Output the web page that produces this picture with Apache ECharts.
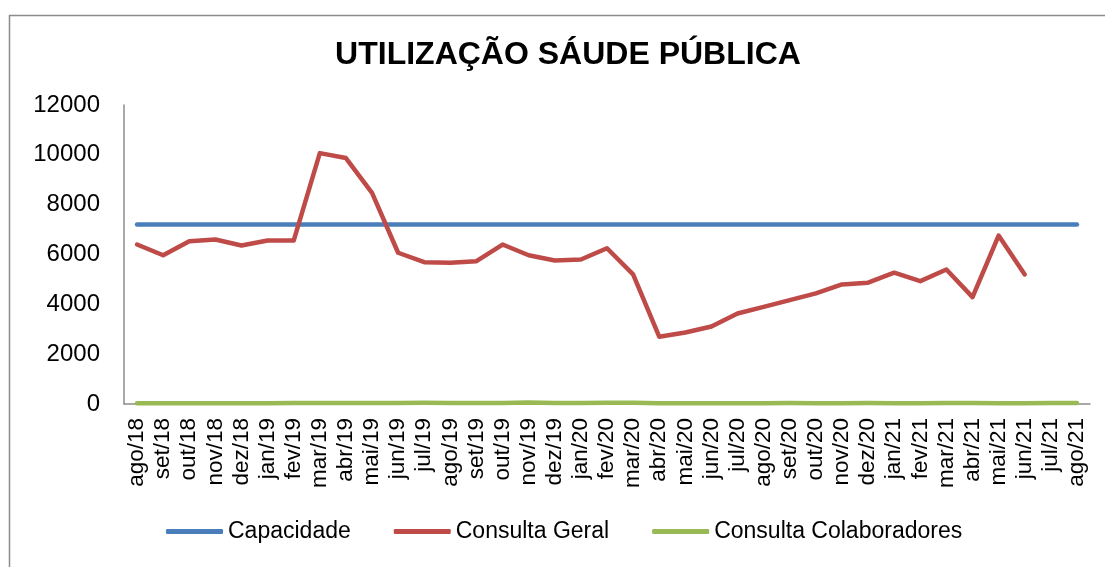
<!DOCTYPE html>
<html>
<head>
<meta charset="utf-8">
<script src="https://cdn.jsdelivr.net/npm/echarts@6/dist/echarts.min.js"></script>
<style>
  html, body { margin: 0; padding: 0; background: #fff; }
  #chart { width: 1105px; height: 567px; }
</style>
</head>
<body>
<div id="chart"></div>
<script>
// Monthly categories, ago/18 .. ago/21
const months = [
  'ago/18','set/18','out/18','nov/18','dez/18','jan/19','fev/19','mar/19','abr/19','mai/19',
  'jun/19','jul/19','ago/19','set/19','out/19','nov/19','dez/19','jan/20','fev/20','mar/20',
  'abr/20','mai/20','jun/20','jul/20','ago/20','set/20','out/20','nov/20','dez/20','jan/21',
  'fev/21','mar/21','abr/21','mai/21','jun/21','jul/21','ago/21'
];

// Installed capacity (constant over the period)
const capacidade = [
  7200,7200,7200,7200,7200,7200,7200,7200,7200,7200,
  7200,7200,7200,7200,7200,7200,7200,7200,7200,7200,
  7200,7200,7200,7200,7200,7200,7200,7200,7200,7200,
  7200,7200,7200,7200,7200,7200,7200
];

// General consultations (no data yet for jul/21 and ago/21)
const consultaGeral = [
  6400,5970,6530,6600,6360,6560,6560,10070,9870,8470,
  6070,5690,5670,5730,6400,5970,5760,5800,6250,5200,
  2700,2870,3110,3630,3900,4170,4440,4800,4870,5270,
  4930,5400,4290,6760,5200,null,null
];

// Staff consultations
const consultaColaboradores = [
  30,30,30,30,30,30,40,40,40,40,
  40,50,40,40,40,60,40,40,50,50,
  30,30,30,30,30,40,30,30,40,30,
  30,40,40,30,30,40,40
];

// Y axis range
const yMin = 0, yMax = 12000, yStep = 2000;

const FONT = 'Liberation Sans, Arial, sans-serif';

const chart = echarts.init(document.getElementById('chart'), null, { renderer: 'canvas' });

const lineSeries = (name, data, color) => ({
  name,
  type: 'line',
  data,
  symbol: 'none',
  smooth: false,
  connectNulls: false,
  lineStyle: { color, width: 4.5, cap: 'round', join: 'round' },
  itemStyle: { color },
  emphasis: { disabled: true },
  animation: false
});

chart.setOption({
  animation: false,
  backgroundColor: '#ffffff',
  graphic: [{
    type: 'rect',
    shape: { x: 9.5, y: 15.5, width: 1200, height: 700 },
    style: { fill: 'none', stroke: '#8c8c8c', lineWidth: 1.5 },
    silent: true,
    z: -1
  }],
  title: {
    text: 'UTILIZAÇÃO SÁUDE PÚBLICA',
    left: 563,
    textAlign: 'center',
    top: 34,
    textStyle: {
      fontFamily: FONT,
      fontSize: 32,
      fontWeight: 'bold',
      color: '#000'
    }
  },
  legend: {
    bottom: 19,
    left: 161,
    icon: 'roundRect',
    itemWidth: 57,
    itemHeight: 5,
    itemGap: 43,
    textStyle: {
      fontFamily: FONT,
      fontSize: 23,
      color: '#000'
    },
    data: ['Capacidade', 'Consulta Geral', 'Consulta Colaboradores']
  },
  grid: { left: 124, right: 15, top: 105, bottom: 163, containLabel: false },
  xAxis: {
    type: 'category',
    data: months,
    boundaryGap: true,
    axisLine: { show: true, lineStyle: { color: '#8c8c8c', width: 1.5 } },
    axisTick: { show: false },
    axisLabel: {
      rotate: 90,
      interval: 0,
      margin: 14,
      fontFamily: FONT,
      fontSize: 22.5,
      color: '#000'
    },
    splitLine: { show: false }
  },
  yAxis: {
    type: 'value',
    min: yMin,
    max: yMax,
    interval: yStep,
    axisLine: { show: true, lineStyle: { color: '#8c8c8c', width: 1.5 } },
    axisTick: { show: false },
    axisLabel: {
      margin: 24,
      formatter: v => String(v),
      fontFamily: FONT,
      fontSize: 24,
      color: '#000'
    },
    splitLine: { show: false }
  },
  series: [
    lineSeries('Capacidade', capacidade, '#4A7EBB'),
    lineSeries('Consulta Geral', consultaGeral, '#BE4B48'),
    lineSeries('Consulta Colaboradores', consultaColaboradores, '#98B954')
  ]
});
</script>
</body>
</html>
